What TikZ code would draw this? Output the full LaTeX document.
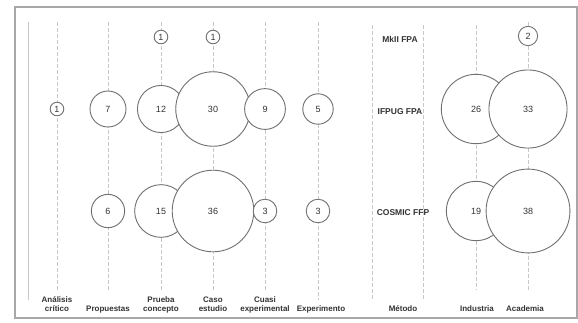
\documentclass[tikz,border=0pt]{standalone}
\usepackage{fontspec}
\setmainfont{Liberation Sans}
\definecolor{gridgray}{HTML}{C8C8C8}
\definecolor{ringgray}{HTML}{707070}
\definecolor{framegray}{HTML}{A8A8A8}
\definecolor{inkgray}{HTML}{333333}
\tikzset{
  bubble/.style={circle, draw=ringgray, line width=0.9pt, fill=white, inner sep=0pt,
    minimum size={13.6*sqrt(#1)*1pt}, text=inkgray, font=\fontsize{9}{9}\selectfont},
  colline/.style={draw=gridgray, line width=0.5pt, dash pattern=on 4pt off 2pt},
  collabel/.style={anchor=south, align=center, inner sep=0pt, text=inkgray,
    font=\bfseries\fontsize{8}{9}\selectfont, execute at end node=\strut},
  rowlabel/.style={inner sep=0pt, text=inkgray, font=\bfseries\fontsize{8.5}{9}\selectfont}
}
\begin{document}
\begin{tikzpicture}[x=1pt, y=-1pt]
  \useasboundingbox[fill=white] (0,0) rectangle (578,322);
  % frame
  \draw[framegray, line width=1.2pt] (15,7) rectangle (577,318);
  \draw[gridgray, line width=0.6pt] (28,22) -- (28,300);
  % column lines
  \draw[colline] (57,22) -- (57,290);
  \draw[colline] (108,22) -- (108,290);
  \draw[colline] (161,22) -- (161,290);
  \draw[colline] (213,22) -- (213,290);
  \draw[colline] (265,22) -- (265,290);
  \draw[colline] (318,22) -- (318,300);
  \draw[colline] (372,25) -- (372,300);
  \draw[colline] (423,25) -- (423,300);
  \draw[colline] (476,25) -- (476,290);
  \draw[colline] (528,22) -- (528,290);
  % MkII FPA row
  \node[bubble=1] (mk1) at (161,37) {1};
  \node[bubble=1] (mk2) at (213,37) {1};
  \node[bubble=2] (mk3) at (528,36) {2};
  % IFPUG FPA row
  \node[bubble=1] (if1) at (57,109) {1};
  \node[bubble=7] (if2) at (108,109) {7};
  \node[bubble=12] (if3) at (161,109) {12};
  \node[bubble=30] (if4) at (213,109) {30};
  \node[bubble=9] (if5) at (265,109) {9};
  \node[bubble=5] (if6) at (318,109) {5};
  \node[bubble=26] (if7) at (476,109) {26};
  \node[bubble=33] (if8) at (528,109) {33};
  % COSMIC FFP row
  \node[bubble=6] (co1) at (108,211) {6};
  \node[bubble=15] (co2) at (161,211) {15};
  \node[bubble=36] (co3) at (213,211) {36};
  \node[bubble=3] (co4) at (265,211) {3};
  \node[bubble=3] (co5) at (318,211) {3};
  \node[bubble=19] (co6) at (476,211) {19};
  \node[bubble=38] (co7) at (528,211) {38};
  % method names
  \node[rowlabel] (mkii) at (400,39) {MkII FPA};
  \node[rowlabel] (ifpug) at (400,112) {IFPUG FPA};
  \node[rowlabel] (cosmic) at (403,213) {COSMIC FFP};
  % column labels
  \node[collabel] (analisis) at (57,314) {Análisis\\crítico};
  \node[collabel] (propuestas) at (108,314) {Propuestas};
  \node[collabel] (prueba) at (161,314) {Prueba\\concepto};
  \node[collabel] (caso) at (213,314) {Caso\\estudio};
  \node[collabel] (cuasi) at (265,314) {Cuasi\\experimental};
  \node[collabel] (experimento) at (321,314) {Experimento};
  \node[collabel] (metodo) at (403,314) {Método};
  \node[collabel] (industria) at (477,314) {Industria};
  \node[collabel] (academia) at (525,314) {Academia};
\end{tikzpicture}
\end{document}
